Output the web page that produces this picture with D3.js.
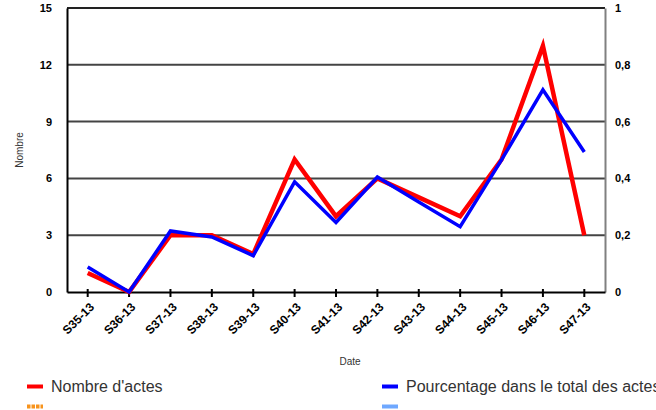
<!DOCTYPE html>
<html>
<head>
<meta charset="utf-8">
<style>
  body { margin: 0; background: #fff; overflow: hidden; }
  svg text { font-family: "Liberation Sans", Arial, sans-serif; }
</style>
</head>
<body>
<script src="https://cdn.jsdelivr.net/npm/d3@7/dist/d3.min.js"></script>
<script>
// data
var semaines = ["S35-13", "S36-13", "S37-13", "S38-13", "S39-13", "S40-13", "S41-13",
                "S42-13", "S43-13", "S44-13", "S45-13", "S46-13", "S47-13"];
var nombreActes = [1, 0, 3, 3, 2, 7, 4, 6, 5, 4, 7, 13, 3];
var pourcentage = [0.088, 0, 0.215, 0.194, 0.128, 0.388, 0.245, 0.405, 0.317, 0.23, 0.465, 0.712, 0.493];
var leftTicks = [0, 3, 6, 9, 12, 15];
var rightTicks = [0, 0.2, 0.4, 0.6, 0.8, 1];

var W = 656, H = 410;
var pLeft = 67, pRight = 605, pTop = 8, pBottom = 292;

var svg = d3.select("body").append("svg")
  .attr("width", W)
  .attr("height", H);

var x = d3.scaleBand().domain(semaines).range([pLeft, pRight]);
var y = d3.scaleLinear().domain([0, 15]).range([pBottom, pTop]);
var y2 = d3.scaleLinear().domain([0, 1]).range([pBottom, pTop]);
var cx = function(d) { return x(d) + x.bandwidth() / 2; };

// gridlines
svg.append("g")
  .selectAll("line")
  .data(leftTicks.filter(function(d) { return d > 0 && d < 15; }))
  .enter().append("line")
  .attr("x1", pLeft).attr("x2", pRight)
  .attr("y1", function(d) { return y(d); })
  .attr("y2", function(d) { return y(d); })
  .attr("stroke", "#444")
  .attr("stroke-width", 2);

// top border
svg.append("line")
  .attr("x1", pLeft).attr("x2", pRight)
  .attr("y1", pTop).attr("y2", pTop)
  .attr("stroke", "#222").attr("stroke-width", 2);

// right axis (gray)
var yAxisR = svg.append("g")
  .attr("transform", "translate(" + pRight + ",0)")
  .call(d3.axisRight(y2).tickValues(rightTicks).tickSize(0).tickPadding(10)
    .tickFormat(function(d) { return d === 0 || d === 1 ? d3.format("d")(d) : d3.format(".1f")(d).replace(".", ","); }));
yAxisR.select(".domain").attr("stroke", "#808080").attr("stroke-width", 2);
yAxisR.selectAll("text").attr("font-size", 11).attr("font-weight", "bold").attr("fill", "#000");

// left axis
var yAxisL = svg.append("g")
  .attr("transform", "translate(" + pLeft + ",0)")
  .call(d3.axisLeft(y).tickValues(leftTicks).tickSize(0).tickPadding(15));
yAxisL.select(".domain").attr("stroke", "#000").attr("stroke-width", 2);
yAxisL.selectAll("text").attr("font-size", 11).attr("font-weight", "bold").attr("fill", "#000");

// bottom axis
var xAxis = svg.append("g")
  .attr("transform", "translate(0," + pBottom + ")")
  .call(d3.axisBottom(x).tickSizeInner(4).tickSizeOuter(0));
xAxis.select(".domain").attr("stroke", "#000").attr("stroke-width", 2);
xAxis.selectAll(".tick line").attr("stroke", "#000").attr("stroke-width", 2).attr("y1", -3).attr("y2", 5);
xAxis.selectAll("text")
  .attr("font-size", 12).attr("font-weight", "bold").attr("fill", "#000")
  .attr("text-anchor", "end")
  .attr("transform", "rotate(-45)")
  .attr("x", -6).attr("y", 12).attr("dy", "0.35em");

// lines
var lineN = d3.line()
  .x(function(d, i) { return cx(semaines[i]); })
  .y(function(d) { return y(d); });
var lineP = d3.line()
  .x(function(d, i) { return cx(semaines[i]); })
  .y(function(d) { return y2(d); });

svg.append("path")
  .datum(nombreActes)
  .attr("d", lineN)
  .attr("fill", "none")
  .attr("stroke", "#ff0000")
  .attr("stroke-width", 4.5);

svg.append("path")
  .datum(pourcentage)
  .attr("d", lineP)
  .attr("fill", "none")
  .attr("stroke", "#0000ff")
  .attr("stroke-width", 3.5);

// axis titles
svg.append("text")
  .attr("transform", "translate(23," + ((pTop + pBottom) / 2) + ") rotate(-90)")
  .attr("text-anchor", "middle")
  .attr("font-size", 10)
  .attr("fill", "#333")
  .text("Nombre");

svg.append("text")
  .attr("x", 350).attr("y", 365)
  .attr("text-anchor", "middle")
  .attr("font-size", 10)
  .attr("fill", "#333")
  .text("Date");

// legend
var legend = [
  {label: "Nombre d'actes", color: "#ff0000", x: 27, y: 386.5, dash: null},
  {label: "Pourcentage dans le total des actes", color: "#0000ff", x: 382, y: 386.5, dash: null},
  {label: "", color: "#f7941d", x: 27, y: 406.5, dash: "3.5,1"},
  {label: "", color: "#6fa8ff", x: 382, y: 406.5, dash: null}
];
var lg = svg.append("g").selectAll("g").data(legend).enter().append("g");
lg.append("line")
  .attr("x1", function(d) { return d.x; })
  .attr("x2", function(d) { return d.x + 16; })
  .attr("y1", function(d) { return d.y; })
  .attr("y2", function(d) { return d.y; })
  .attr("stroke", function(d) { return d.color; })
  .attr("stroke-width", 4)
  .attr("stroke-dasharray", function(d) { return d.dash; });
lg.append("text")
  .attr("x", function(d) { return d.x + 24; })
  .attr("y", function(d) { return d.y + 5.5; })
  .attr("font-size", 16)
  .attr("fill", "#333")
  .text(function(d) { return d.label; });
</script>
</body>
</html>
